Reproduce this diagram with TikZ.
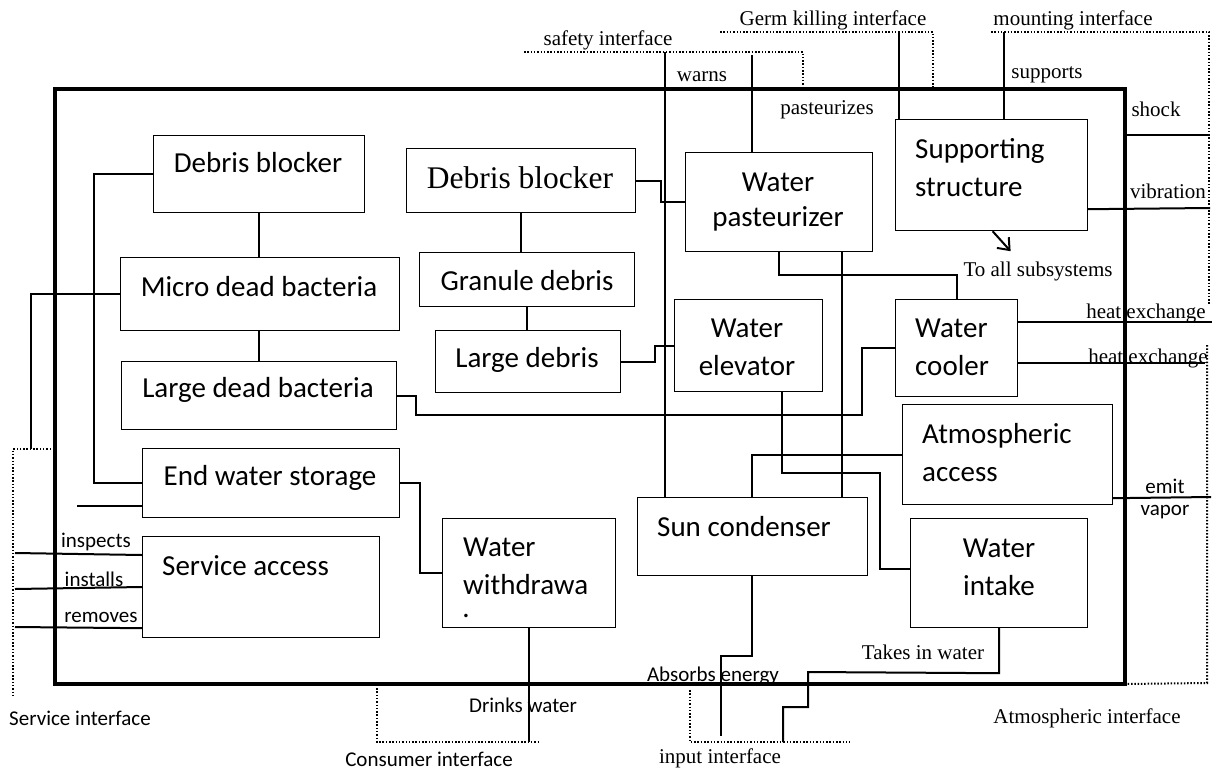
\documentclass[tikz,border=0pt]{standalone}
\usepackage{fontspec}
\setmainfont{Liberation Serif}
\newfontfamily\carl{Carlito}
\usetikzlibrary{calc,arrows.meta}
\begin{document}
\begin{tikzpicture}[x=1pt,y=-1pt,
  box/.style={draw, line width=1.2pt, inner sep=0pt, anchor=north west},
  conn/.style={line width=2pt},
  iface/.style={line width=2pt, dash pattern=on 1.5pt off 1.8pt},
  lab/.style={font=\fontsize{21}{24}\selectfont, inner sep=0pt},
  slab/.style={font=\carl\fontsize{21}{24}\selectfont, inner sep=0pt},
  bt/.style={font=\carl\fontsize{29}{38}\selectfont, inner sep=0pt, align=left},
  sbt/.style={font=\fontsize{31.5}{36}\selectfont, inner sep=0pt}]
\useasboundingbox (0,0) rectangle (1217,771);

% system border
\node[draw, line width=4.5pt, inner sep=0pt, outer sep=0pt, minimum width=1070pt, minimum height=595pt, anchor=north west] (sys) at (55,89) {};

% boxes
\node[box, minimum width=211pt, minimum height=77pt] (db1) at (153,135) {};
\node[bt, anchor=center] (db1t) at (258,163) {Debris blocker};
\node[box, minimum width=279pt, minimum height=73pt] (mdb) at (120,257) {};
\node[bt, anchor=center] (mdbt) at (259,287) {Micro dead bacteria};
\node[box, minimum width=275pt, minimum height=68pt] (ldb) at (121,361) {};
\node[bt, anchor=center] (ldbt) at (258,390) {Large dead bacteria};
\node[box, minimum width=257pt, minimum height=69pt] (ews) at (142,448) {};
\node[bt, anchor=center] (ewst) at (270,478) {End water storage};
\node[box, minimum width=237pt, minimum height=101pt] (sa) at (142,536) {};
\node[bt, anchor=west] (sat) at (162,566) {Service access};
\node[box, minimum width=229pt, minimum height=64pt] (db2) at (406,148) {};
\node[sbt, anchor=center] (db2t) at (520,178) {Debris blocker};
\node[box, minimum width=215pt, minimum height=54pt] (gd) at (419,252) {};
\node[bt, anchor=center] (gdt) at (527,281) {Granule debris};
\node[box, minimum width=185pt, minimum height=62pt] (ld) at (435,330) {};
\node[bt, anchor=center] (ldt) at (527,360) {Large debris};
\node[box, minimum width=187pt, minimum height=99pt] (wp) at (685,152) {};
\node[bt, align=center, anchor=center, font=\carl\fontsize{29}{35}\selectfont] (wpt) at (778,202) {Water\\pasteurizer};
\node[box, minimum width=192pt, minimum height=111pt] (ss) at (895,119) {};
\node[bt, anchor=west] (sst) at (915,168) {Supporting\\structure};
\node[box, minimum width=148pt, minimum height=92pt] (we) at (674,299) {};
\node[bt, align=center, anchor=center] (wet) at (747,347) {Water\\elevator};
\node[box, minimum width=122pt, minimum height=97pt] (wc) at (895,299) {};
\node[bt, anchor=west] (wct) at (915,347) {Water\\cooler};
\node[box, minimum width=210pt, minimum height=100pt] (aa) at (902,404) {};
\node[bt, anchor=west] (aat) at (922,453) {Atmospheric\\access};
\node[box, minimum width=230pt, minimum height=78pt] (sc) at (637,497) {};
\node[bt, anchor=west] (sct) at (657,527) {Sun condenser};
\node[box, minimum width=177pt, minimum height=109pt] (wi) at (910,518) {};
\node[bt, align=center, anchor=center] (wit) at (999,567) {Water\\intake};
\node[box, minimum width=173pt, minimum height=109pt] (ww) at (442,518) {};
\node[bt, anchor=west] (wwt) at (463,566) {Water\\withdrawa};
\node[font=\carl\fontsize{29}{30}\selectfont, inner sep=0pt, anchor=south] (wwdot) at (466,618) {.};

% interface coordinates
\coordinate (saf1) at (524,52);
\coordinate (saf2) at (803,52);
\coordinate (safA) at (665,52);
\coordinate (safB) at (752,55);
\coordinate (grm1) at (720,32);
\coordinate (grm2) at (933,32);
\coordinate (grmA) at (899,32);
\coordinate (mnt1) at (991,32);
\coordinate (mnt2) at (1209,32);
\coordinate (mntA) at (1004,32);
\coordinate (svc1) at (51,449);
\coordinate (svc2) at (13,449);
\coordinate (svcA) at (31,449);
\coordinate (con1) at (377,688);
\coordinate (con2) at (538,742);
\coordinate (inp1) at (690,690);
\coordinate (inp2) at (850,742);

% dotted interfaces
\draw[iface] (saf1) -- (saf2) -- (saf2 |- sys.north);
\draw[iface] (grm1) -- (grm2) -- (grm2 |- sys.north);
\draw[iface] (mnt1) -- (mnt2) -- (1209,305);
\draw[iface] (1207,345) -- (1207,683) -- (sys.south east);
\draw[iface] (svc1) -- (svc2) -- (13,695);
\draw[iface] (con1) -- (con1 |- con2) -- (con2);
\draw[iface] (inp1) -- (inp1 |- inp2) -- (inp2);

% connectors
\draw[conn] (db1.west) -| ($(ews.west)+(-48,0)$) -- (ews.west);
\draw[conn] (db1.south) -- (db1.south |- mdb.north);
\draw[conn] ($(mdb.south)+(-1,0)$) -- ($(mdb.south |- ldb.north)+(-1,0)$);
\draw[conn] (mdb.west) -| (svcA);
\draw[conn] ($(ews.south west)+(0,-12)$) -- ++(-65,0);
\draw[conn] (ldb.east) -- ++(19,0) |- (862,415) |- (wc.west);
\draw[conn] (ews.east) -- ++(20,0) |- (ww.west);
\draw[conn] (ww.south) -- (ww.south |- con2);
\draw[conn] ($(sa.north west)+(0,19)$) -- (15,553);
\draw[conn] ($(sa.north west)+(0,51)$) -- (15,589);
\draw[conn] ($(sa.south west)+(0,-10)$) -- (15,627);
\draw[conn] (db2.south) -- (db2.south |- gd.north);
\draw[conn] (gd.south) -- (gd.south |- ld.north);
\draw[conn] (db2.east) -- ++(25,0) |- (wp.west);
\draw[conn] (ld.east) -- ++(34,0) |- (we.west);
\draw[conn] (safA) -- (safA |- sc.north);
\draw[conn] (safB) -- (safB |- wp.north);
\draw[conn] (wp.south) -- ++(0,23) -| (wc.north);
\draw[conn] ($(wp.south east)+(-31,0)$) coordinate (wpb) -- (wpb |- sc.north);
\draw[conn] (grmA) -- (grmA |- ss.north);
\draw[conn] (mntA) -- (mntA |- ss.north);
\draw[conn] ($(sys.north east)+(0,46)$) -- (1209,135);
\draw[conn] ($(ss.south east)+(0,-22)$) -- (1210,208);
\draw[line width=2pt, -{Straight Barb[length=10pt,width=16pt]}] ($(ss.south)+(1,0)$) -- ++(18,20);
\draw[conn] ($(wc.north east)+(0,23)$) -- (1212,322);
\draw[conn] ($(wc.north east)+(0,64)$) -- (1205,363);
\draw[conn] (aa.west) -| ($(sc.north west)+(115,0)$);
\draw[conn] ($(aa.south east)+(0,-7)$) -- (1211,497);
\draw[conn] ($(we.south west)+(108,0)$) -- ++(0,81) -- ++(98,0) |- ($(wi.north west)+(0,51)$);
\draw[conn] ($(sc.south west)+(115,0)$) -- ++(0,80) -- ++(-31,0) -- ++(0,80);
\draw[conn] (wi.south) -- ++(0,45) -- (808,672) -- (808,707) -- (783,707) -- (783,742);

% labels
\node[lab] (l-saf) at (608,40) {safety interface};
\node[lab] (l-warns) at (702,77) {warns};
\node[lab] (l-germ) at (833,20) {Germ killing interface};
\node[lab] (l-past) at (827,110) {pasteurizes};
\node[lab] (l-mnt) at (1073,20) {mounting interface};
\node[lab] (l-sup) at (1047,75) {supports};
\node[lab] (l-shock) at (1156,109) {shock};
\node[lab] (l-vib) at (1168,191) {vibration};
\node[lab] (l-all) at (1038,271) {To all subsystems};
\node[lab] (l-he1) at (1146,313) {heat exchange};
\node[lab] (l-he2) at (1148,358) {heat exchange};
\node[slab] (l-emit) at (1165,486) {emit};
\node[slab] (l-vap) at (1165,512) {vapor};
\node[lab] (l-atm) at (1087,718) {Atmospheric interface};
\node[lab] (l-take) at (923,652) {Takes in water};
\node[lab] (l-inp) at (720,758) {input interface};
\node[slab] (l-abs) at (713,676) {Absorbs energy};
\node[slab] (l-drink) at (523,705) {Drinks water};
\node[slab] (l-con) at (429,759) {Consumer interface};
\node[slab] (l-svc) at (80,718) {Service interface};
\node[slab] (l-insp) at (96,542) {inspects};
\node[slab] (l-inst) at (94,579) {installs};
\node[slab] (l-rem) at (101,617) {removes};
\end{tikzpicture}
\end{document}
